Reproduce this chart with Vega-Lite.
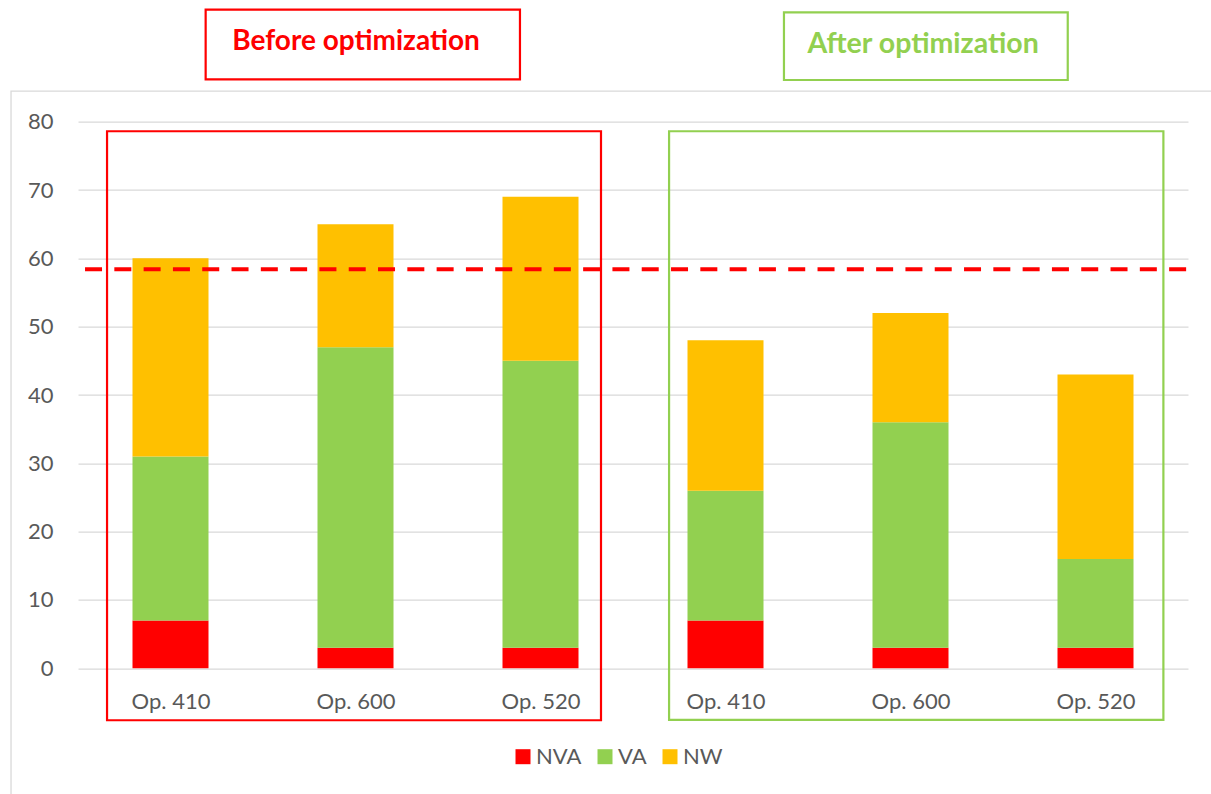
{
  "$schema": "https://vega.github.io/schema/vega-lite/v6.json",
  "width": 1110,
  "height": 546.6,
  "autosize": {"type": "none"},
  "padding": {"left": 78, "top": 121.7, "right": 23, "bottom": 125.7},
  "background": "white",
  "config": {"view": {"stroke": null}, "font": "Lato"},
  "datasets": {
    "bars": [
      {"slot": 1, "op": "Op. 410", "phase": "Before", "series": "NVA", "value": 7},
      {"slot": 1, "op": "Op. 410", "phase": "Before", "series": "VA", "value": 24},
      {"slot": 1, "op": "Op. 410", "phase": "Before", "series": "NW", "value": 29},
      {"slot": 2, "op": "Op. 600", "phase": "Before", "series": "NVA", "value": 3},
      {"slot": 2, "op": "Op. 600", "phase": "Before", "series": "VA", "value": 44},
      {"slot": 2, "op": "Op. 600", "phase": "Before", "series": "NW", "value": 18},
      {"slot": 3, "op": "Op. 520", "phase": "Before", "series": "NVA", "value": 3},
      {"slot": 3, "op": "Op. 520", "phase": "Before", "series": "VA", "value": 42},
      {"slot": 3, "op": "Op. 520", "phase": "Before", "series": "NW", "value": 24},
      {"slot": 4, "op": "Op. 410", "phase": "After", "series": "NVA", "value": 7},
      {"slot": 4, "op": "Op. 410", "phase": "After", "series": "VA", "value": 19},
      {"slot": 4, "op": "Op. 410", "phase": "After", "series": "NW", "value": 22},
      {"slot": 5, "op": "Op. 600", "phase": "After", "series": "NVA", "value": 3},
      {"slot": 5, "op": "Op. 600", "phase": "After", "series": "VA", "value": 33},
      {"slot": 5, "op": "Op. 600", "phase": "After", "series": "NW", "value": 16},
      {"slot": 6, "op": "Op. 520", "phase": "After", "series": "NVA", "value": 3},
      {"slot": 6, "op": "Op. 520", "phase": "After", "series": "VA", "value": 13},
      {"slot": 6, "op": "Op. 520", "phase": "After", "series": "NW", "value": 27}
    ],
    "target": [{"value": 58.4, "from": 0.538, "to": 6.5}],
    "frame": [{"x1": 0.138, "x2": 6.7, "y1": 84.47, "y2": -20}],
    "groups": [
      {"phase": "Before", "x1": 0.657, "x2": 3.327, "y1": -7.6, "y2": 78.6},
      {"phase": "After", "x1": 3.695, "x2": 6.367, "y1": -7.55, "y2": 78.6}
    ],
    "titles": [
      {"phase": "Before", "label": "Before optimization", "x1": 1.19, "x2": 2.889, "y1": 86.2, "y2": 96.4, "tx": 2.003, "ty": 90.47},
      {"phase": "After", "label": "After optimization", "x1": 4.316, "x2": 5.85, "y1": 86.1, "y2": 96.0, "tx": 5.068, "ty": 90.0}
    ]
  },
  "layer": [
    {
      "data": {"name": "bars"},
      "transform": [{"calculate": "indexof(['NVA','VA','NW'], datum.series)", "as": "k"}],
      "mark": {"type": "bar", "width": 76},
      "encoding": {
        "x": {
          "field": "slot", "type": "quantitative", "title": null,
          "scale": {"domain": [0.5, 6.5], "nice": false, "zero": false, "padding": 0},
          "axis": {
            "values": [1, 2, 3, 4, 5, 6],
            "labelExpr": "['Op. 410','Op. 600','Op. 520','Op. 410','Op. 600','Op. 520'][datum.value - 1]",
            "title": null, "grid": false, "domain": false, "ticks": false, "tickSize": 0,
            "labelFontSize": 22, "labelColor": "#595959", "labelFont": "Lato",
            "labelPadding": 23.5, "labelFlush": false, "labelOverlap": false
          }
        },
        "y": {
          "field": "value", "type": "quantitative", "stack": "zero", "title": null,
          "scale": {"domain": [0, 80], "nice": false},
          "axis": {
            "values": [0, 10, 20, 30, 40, 50, 60, 70, 80],
            "title": null, "grid": true, "gridColor": "#D9D9D9", "gridWidth": 1.3,
            "domain": false, "ticks": false, "tickSize": 0,
            "labelFontSize": 22, "labelColor": "#595959", "labelFont": "Lato", "labelPadding": 25
          }
        },
        "color": {
          "field": "series", "type": "nominal",
          "scale": {"domain": ["NVA", "VA", "NW"], "range": ["#FF0000", "#92D050", "#FFC000"]},
          "legend": {
            "title": null, "orient": "none", "legendX": 434, "legendY": 624, "direction": "horizontal",
            "symbolType": "square", "symbolSize": 225, "symbolStrokeWidth": 0,
            "labelFontSize": 22, "labelColor": "#595959", "labelFont": "Lato",
            "columnPadding": 12, "labelOffset": 2, "padding": 0
          }
        },
        "order": {"field": "k", "type": "quantitative"}
      }
    },
    {
      "data": {"name": "frame"},
      "mark": {"type": "rect", "fill": null, "stroke": "#D9D9D9", "strokeWidth": 1.3, "clip": false},
      "encoding": {
        "x": {"field": "x1", "type": "quantitative", "title": null, "scale": {"domain": [0.5, 6.5], "nice": false, "zero": false, "padding": 0}},
        "x2": {"field": "x2"},
        "y": {"field": "y1", "type": "quantitative", "title": null, "scale": {"domain": [0, 80], "nice": false}},
        "y2": {"field": "y2"}
      }
    },
    {
      "data": {"name": "target"},
      "mark": {"type": "rule", "color": "#FF0000", "strokeWidth": 4, "strokeDash": [17, 12.3]},
      "encoding": {
        "x": {"field": "from", "type": "quantitative", "title": null, "scale": {"domain": [0.5, 6.5], "nice": false, "zero": false, "padding": 0}},
        "x2": {"field": "to"},
        "y": {"field": "value", "type": "quantitative", "title": null, "scale": {"domain": [0, 80], "nice": false}}
      }
    },
    {
      "data": {"name": "groups"},
      "mark": {"type": "rect", "fill": null, "strokeWidth": 2.2, "clip": false},
      "encoding": {
        "x": {"field": "x1", "type": "quantitative", "title": null, "scale": {"domain": [0.5, 6.5], "nice": false, "zero": false, "padding": 0}},
        "x2": {"field": "x2"},
        "y": {"field": "y1", "type": "quantitative", "title": null, "scale": {"domain": [0, 80], "nice": false}},
        "y2": {"field": "y2"},
        "stroke": {"field": "phase", "type": "nominal", "scale": {"domain": ["Before", "After"], "range": ["#FF0000", "#92D050"]}, "legend": null}
      }
    },
    {
      "data": {"name": "titles"},
      "mark": {"type": "rect", "fill": null, "strokeWidth": 2.2, "clip": false},
      "encoding": {
        "x": {"field": "x1", "type": "quantitative", "title": null, "scale": {"domain": [0.5, 6.5], "nice": false, "zero": false, "padding": 0}},
        "x2": {"field": "x2"},
        "y": {"field": "y1", "type": "quantitative", "title": null, "scale": {"domain": [0, 80], "nice": false}},
        "y2": {"field": "y2"},
        "stroke": {"field": "phase", "type": "nominal", "scale": {"domain": ["Before", "After"], "range": ["#FF0000", "#92D050"]}, "legend": null}
      }
    },
    {
      "data": {"name": "titles"},
      "transform": [{"filter": "datum.phase === 'Before'"}],
      "mark": {"type": "text", "color": "#FF0000", "fontWeight": "bold", "fontSize": 28, "font": "Lato", "align": "center", "baseline": "alphabetic", "clip": false},
      "encoding": {
        "x": {"field": "tx", "type": "quantitative", "title": null, "scale": {"domain": [0.5, 6.5], "nice": false, "zero": false, "padding": 0}},
        "y": {"field": "ty", "type": "quantitative", "title": null, "scale": {"domain": [0, 80], "nice": false}},
        "text": {"field": "label"}
      }
    },
    {
      "data": {"name": "titles"},
      "transform": [{"filter": "datum.phase === 'After'"}],
      "mark": {"type": "text", "color": "#92D050", "fontWeight": "bold", "fontSize": 28.5, "font": "Lato", "align": "center", "baseline": "alphabetic", "clip": false},
      "encoding": {
        "x": {"field": "tx", "type": "quantitative", "title": null, "scale": {"domain": [0.5, 6.5], "nice": false, "zero": false, "padding": 0}},
        "y": {"field": "ty", "type": "quantitative", "title": null, "scale": {"domain": [0, 80], "nice": false}},
        "text": {"field": "label"}
      }
    }
  ]
}
